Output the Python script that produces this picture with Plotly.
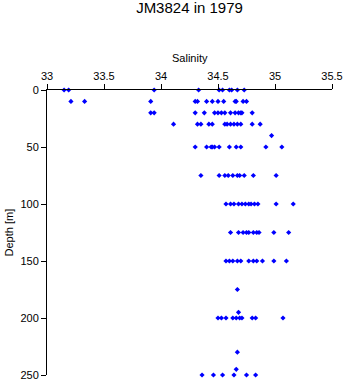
import plotly.graph_objects as go

depth_0 = [0]*10
sal_0 = [33.15, 33.19, 33.94, 34.33, 34.51, 34.54, 34.60, 34.62, 34.67, 34.73]
depth_10 = [10]*13
sal_10 = [33.21, 33.33, 33.91, 34.30, 34.32, 34.40, 34.45, 34.50, 34.55, 34.65, 34.66, 34.72, 34.75]
depth_20 = [20]*14
sal_20 = [33.91, 33.94, 34.30, 34.38, 34.47, 34.50, 34.53, 34.56, 34.61, 34.65, 34.68, 34.71, 34.80, 34.70]
depth_30 = [30]*13
sal_30 = [34.11, 34.32, 34.35, 34.42, 34.45, 34.56, 34.61, 34.64, 34.67, 34.70, 34.80, 34.87, 34.58]
depth_40 = [40]
sal_40 = [34.97]
depth_50 = [50]*11
sal_50 = [34.30, 34.40, 34.44, 34.47, 34.51, 34.60, 34.66, 34.70, 34.92, 35.06, 34.45]
depth_75 = [75]*10
sal_75 = [34.35, 34.51, 34.56, 34.59, 34.63, 34.67, 34.69, 34.73, 34.81, 35.01]
depth_100 = [100]*12
sal_100 = [34.57, 34.61, 34.64, 34.68, 34.71, 34.74, 34.77, 34.79, 34.82, 34.85, 35.01, 35.16]
depth_125 = [125]*10
sal_125 = [34.61, 34.68, 34.72, 34.75, 34.77, 34.81, 34.84, 34.86, 34.99, 35.12]
depth_150 = [150]*11
sal_150 = [34.57, 34.60, 34.63, 34.67, 34.70, 34.77, 34.81, 34.84, 34.89, 34.99, 35.10]
depth_deep = [175, 195, 230, 245]
sal_deep = [34.67, 34.68, 34.67, 34.66]
depth_200 = [200]*10
sal_200 = [34.50, 34.53, 34.57, 34.63, 34.66, 34.69, 34.71, 34.80, 34.83, 35.07]
depth_250 = [250]*6
sal_250 = [34.36, 34.46, 34.54, 34.64, 34.75, 34.83]

depth = (depth_0 + depth_10 + depth_20 + depth_30 + depth_40 + depth_50 + depth_75 +
         depth_100 + depth_125 + depth_150 + depth_deep + depth_200 + depth_250)
salinity = (sal_0 + sal_10 + sal_20 + sal_30 + sal_40 + sal_50 + sal_75 +
            sal_100 + sal_125 + sal_150 + sal_deep + sal_200 + sal_250)

x_ticks = [33, 33.5, 34, 34.5, 35, 35.5]
y_ticks = [0, 50, 100, 150, 200, 250]

font = "Liberation Sans, Arial, sans-serif"

fig = go.Figure(go.Scatter(
    x=salinity, y=depth, mode="markers",
    marker=dict(symbol="diamond", size=4, color="#0000FF", line=dict(width=0)),
    cliponaxis=False,
))

fig.update_layout(
    template="none",
    width=346, height=384,
    margin=dict(l=47, r=14, t=90, b=9, pad=0),
    paper_bgcolor="white", plot_bgcolor="white",
    showlegend=False,
    font=dict(family=font, size=11, color="black"),
    title=dict(text="JM3824 in 1979", x=0.5, xanchor="center", xref="paper",
               y=0.979, yanchor="middle",
               font=dict(family=font, size=15, color="black")),
    annotations=[
        dict(text="Salinity", xref="paper", yref="paper", x=0.5, y=1, yshift=32,
             xanchor="center", yanchor="middle", showarrow=False,
             font=dict(family=font, size=11, color="black")),
        dict(text="Depth [m]", xref="paper", yref="paper", x=0, y=0.5, xshift=-39,
             xanchor="center", yanchor="middle", textangle=-90, showarrow=False,
             font=dict(family=font, size=11, color="black")),
    ],
)
fig.update_xaxes(
    side="top", range=[33, 35.5], tickvals=x_ticks, ticktext=[str(v) for v in x_ticks],
    showgrid=False, zeroline=False, showline=True, linecolor="black", linewidth=1,
    ticks="outside", ticklen=5, tickcolor="black", tickwidth=1, automargin=False,
    tickfont=dict(family=font, size=11),
)
fig.update_yaxes(
    range=[250, 0], tickvals=y_ticks, ticktext=[str(v) for v in y_ticks],
    showgrid=False, zeroline=False, showline=True, linecolor="black", linewidth=1,
    ticks="outside", ticklen=5, tickcolor="black", tickwidth=1, automargin=False,
    tickfont=dict(family=font, size=11),
)

fig.write_html("out.html")
